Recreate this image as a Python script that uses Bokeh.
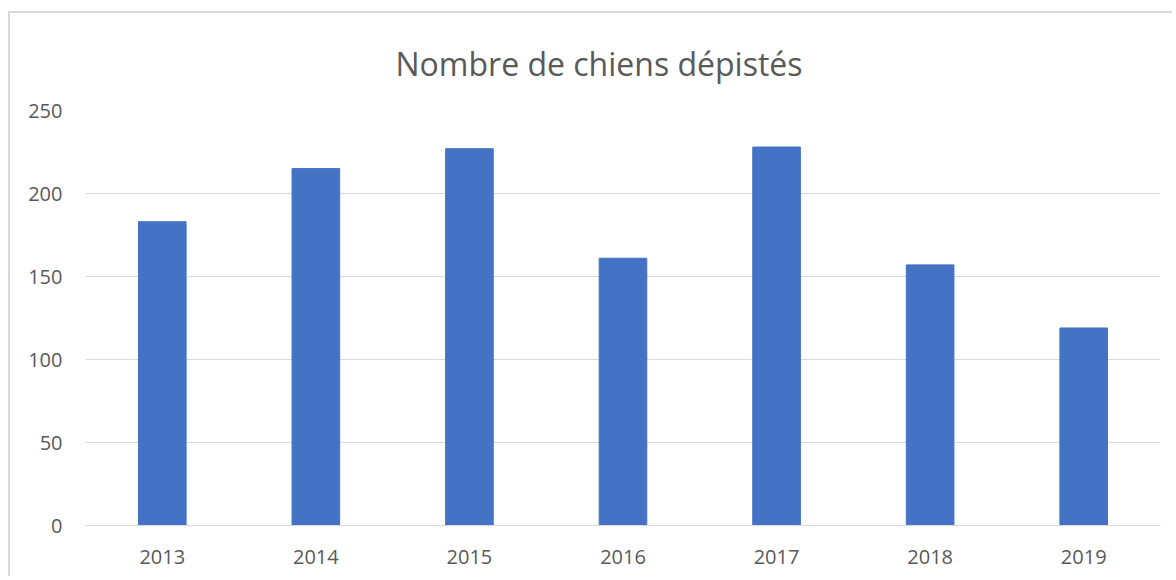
from bokeh.plotting import figure
from bokeh.models import Range1d, FixedTicker
from bokeh.embed import file_html
from bokeh.resources import INLINE

title_text = "Nombre de chiens dépistés"
years = ["2013", "2014", "2015", "2016", "2017", "2018", "2019"]
counts = [183, 215, 227, 161, 228, 157, 119]
y_ticks = [0, 50, 100, 150, 200, 250]

W, H = 1164, 565
p = figure(x_range=years, y_range=Range1d(0, 250), width=W, height=H,
           output_backend="svg", toolbar_location=None,
           title=title_text,
           min_border_left=75, min_border_right=14, min_border_top=97, min_border_bottom=53)
p.styles = {"margin-top": "11px", "margin-left": "8px",
            "border-left": "2px solid #d9d9d9", "border-top": "2px solid #d9d9d9"}

p.vbar(x=years, top=counts, width=0.31, fill_color="#4472C4", line_color="#4472C4")

p.title.align = "left"
p.title.offset = 310
p.title.text_font = "Open Sans"
p.title.text_font_size = "32px"
p.title.text_font_style = "normal"
p.title.text_color = "#595959"
p.title.standoff = 52

p.outline_line_color = None
p.xgrid.grid_line_color = None
p.ygrid.grid_line_color = "#d9d9d9"
p.ygrid.grid_line_width = 1
p.yaxis.ticker = FixedTicker(ticks=y_ticks)

for ax in (p.xaxis[0], p.yaxis[0]):
    ax.major_label_text_font = "Open Sans"
    ax.major_label_text_font_size = "20px"
    ax.major_label_text_color = "#595959"
    ax.major_tick_line_color = None
    ax.minor_tick_line_color = None

p.yaxis.axis_line_color = None
p.yaxis.major_label_standoff = 17
p.xaxis.axis_line_color = "#d9d9d9"
p.xaxis.major_label_standoff = 18

open("out.html", "w").write(file_html(p, INLINE))
